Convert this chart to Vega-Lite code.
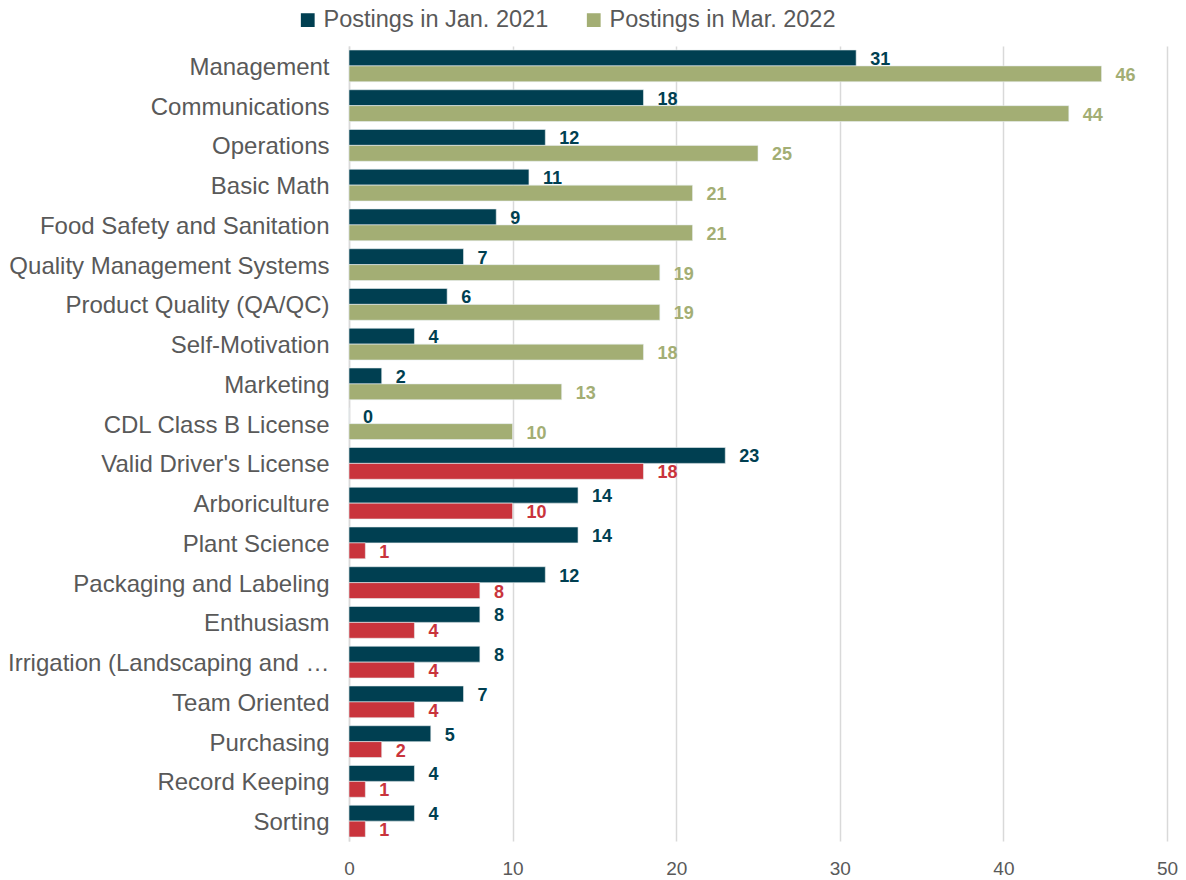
{
  "$schema": "https://vega.github.io/schema/vega-lite/v6.json",
  "autosize": {"type": "none"},
  "padding": {"left": 349, "top": 46, "right": 19, "bottom": 39},
  "width": 818,
  "height": 795,
  "background": "white",
  "config": {
    "font": "Liberation Sans",
    "view": {"stroke": null}
  },
  "data": {
    "values": [
      {"skill": "Management", "group": "a", "period": "Postings in Jan. 2021", "value": 31},
      {"skill": "Management", "group": "a", "period": "Postings in Mar. 2022", "value": 46},
      {"skill": "Communications", "group": "a", "period": "Postings in Jan. 2021", "value": 18},
      {"skill": "Communications", "group": "a", "period": "Postings in Mar. 2022", "value": 44},
      {"skill": "Operations", "group": "a", "period": "Postings in Jan. 2021", "value": 12},
      {"skill": "Operations", "group": "a", "period": "Postings in Mar. 2022", "value": 25},
      {"skill": "Basic Math", "group": "a", "period": "Postings in Jan. 2021", "value": 11},
      {"skill": "Basic Math", "group": "a", "period": "Postings in Mar. 2022", "value": 21},
      {"skill": "Food Safety and Sanitation", "group": "a", "period": "Postings in Jan. 2021", "value": 9},
      {"skill": "Food Safety and Sanitation", "group": "a", "period": "Postings in Mar. 2022", "value": 21},
      {"skill": "Quality Management Systems", "group": "a", "period": "Postings in Jan. 2021", "value": 7},
      {"skill": "Quality Management Systems", "group": "a", "period": "Postings in Mar. 2022", "value": 19},
      {"skill": "Product Quality (QA/QC)", "group": "a", "period": "Postings in Jan. 2021", "value": 6},
      {"skill": "Product Quality (QA/QC)", "group": "a", "period": "Postings in Mar. 2022", "value": 19},
      {"skill": "Self-Motivation", "group": "a", "period": "Postings in Jan. 2021", "value": 4},
      {"skill": "Self-Motivation", "group": "a", "period": "Postings in Mar. 2022", "value": 18},
      {"skill": "Marketing", "group": "a", "period": "Postings in Jan. 2021", "value": 2},
      {"skill": "Marketing", "group": "a", "period": "Postings in Mar. 2022", "value": 13},
      {"skill": "CDL Class B License", "group": "a", "period": "Postings in Jan. 2021", "value": 0},
      {"skill": "CDL Class B License", "group": "a", "period": "Postings in Mar. 2022", "value": 10},
      {"skill": "Valid Driver's License", "group": "b", "period": "Postings in Jan. 2021", "value": 23},
      {"skill": "Valid Driver's License", "group": "b", "period": "Postings in Mar. 2022", "value": 18},
      {"skill": "Arboriculture", "group": "b", "period": "Postings in Jan. 2021", "value": 14},
      {"skill": "Arboriculture", "group": "b", "period": "Postings in Mar. 2022", "value": 10},
      {"skill": "Plant Science", "group": "b", "period": "Postings in Jan. 2021", "value": 14},
      {"skill": "Plant Science", "group": "b", "period": "Postings in Mar. 2022", "value": 1},
      {"skill": "Packaging and Labeling", "group": "b", "period": "Postings in Jan. 2021", "value": 12},
      {"skill": "Packaging and Labeling", "group": "b", "period": "Postings in Mar. 2022", "value": 8},
      {"skill": "Enthusiasm", "group": "b", "period": "Postings in Jan. 2021", "value": 8},
      {"skill": "Enthusiasm", "group": "b", "period": "Postings in Mar. 2022", "value": 4},
      {"skill": "Irrigation (Landscaping and Horticulture)", "group": "b", "period": "Postings in Jan. 2021", "value": 8},
      {"skill": "Irrigation (Landscaping and Horticulture)", "group": "b", "period": "Postings in Mar. 2022", "value": 4},
      {"skill": "Team Oriented", "group": "b", "period": "Postings in Jan. 2021", "value": 7},
      {"skill": "Team Oriented", "group": "b", "period": "Postings in Mar. 2022", "value": 4},
      {"skill": "Purchasing", "group": "b", "period": "Postings in Jan. 2021", "value": 5},
      {"skill": "Purchasing", "group": "b", "period": "Postings in Mar. 2022", "value": 2},
      {"skill": "Record Keeping", "group": "b", "period": "Postings in Jan. 2021", "value": 4},
      {"skill": "Record Keeping", "group": "b", "period": "Postings in Mar. 2022", "value": 1},
      {"skill": "Sorting", "group": "b", "period": "Postings in Jan. 2021", "value": 4},
      {"skill": "Sorting", "group": "b", "period": "Postings in Mar. 2022", "value": 1}
    ]
  },
  "encoding": {
    "y": {
      "field": "skill",
      "type": "nominal",
      "sort": null,
      "scale": {"paddingInner": 0.2, "paddingOuter": 0.1},
      "axis": {
        "title": null,
        "ticks": false,
        "domain": true,
        "domainColor": "#d9d9d9",
        "domainWidth": 1.5,
        "labelFontSize": 24,
        "labelColor": "#595959",
        "labelPadding": 20,
        "labelOffset": 2,
        "labelLimit": 322
      }
    },
    "yOffset": {
      "field": "period",
      "type": "nominal",
      "scale": {"domain": ["Postings in Jan. 2021", "Postings in Mar. 2022"]}
    },
    "x": {
      "field": "value",
      "type": "quantitative",
      "scale": {"domain": [0, 50], "nice": false},
      "axis": {
        "title": null,
        "values": [0, 10, 20, 30, 40, 50],
        "domain": false,
        "ticks": false,
        "grid": true,
        "gridColor": "#d9d9d9",
        "gridWidth": 1.5,
        "labelFlush": false,
        "labelFontSize": 19,
        "labelColor": "#595959",
        "labelPadding": 18
      }
    }
  },
  "layer": [
    {
      "mark": {"type": "bar", "stroke": "#e8eef0", "strokeWidth": 0.6},
      "encoding": {
        "color": {
          "condition": {"test": "datum.group === 'b' && datum.period === 'Postings in Mar. 2022'", "value": "#c9343c"},
          "field": "period",
          "type": "nominal",
          "scale": {"domain": ["Postings in Jan. 2021", "Postings in Mar. 2022"], "range": ["#003f51", "#a3ae74"]},
          "legend": {
            "title": null,
            "orient": "none",
            "direction": "horizontal",
            "padding": 0,
            "legendX": -53,
            "legendY": -38,
            "symbolType": "square",
            "symbolSize": 190,
            "symbolStrokeWidth": 0,
            "labelFontSize": 23.5,
            "labelLimit": 400,
            "labelColor": "#595959",
            "labelOffset": 4,
            "columnPadding": 33
          }
        }
      }
    },
    {
      "mark": {"type": "text", "align": "left", "baseline": "middle", "dx": 14, "dy": 2, "fontSize": 18, "fontWeight": "bold"},
      "encoding": {
        "text": {"field": "value", "type": "quantitative"},
        "color": {
          "condition": {"test": "datum.group === 'b' && datum.period === 'Postings in Mar. 2022'", "value": "#c9343c"},
          "field": "period",
          "type": "nominal",
          "legend": null
        }
      }
    }
  ]
}
